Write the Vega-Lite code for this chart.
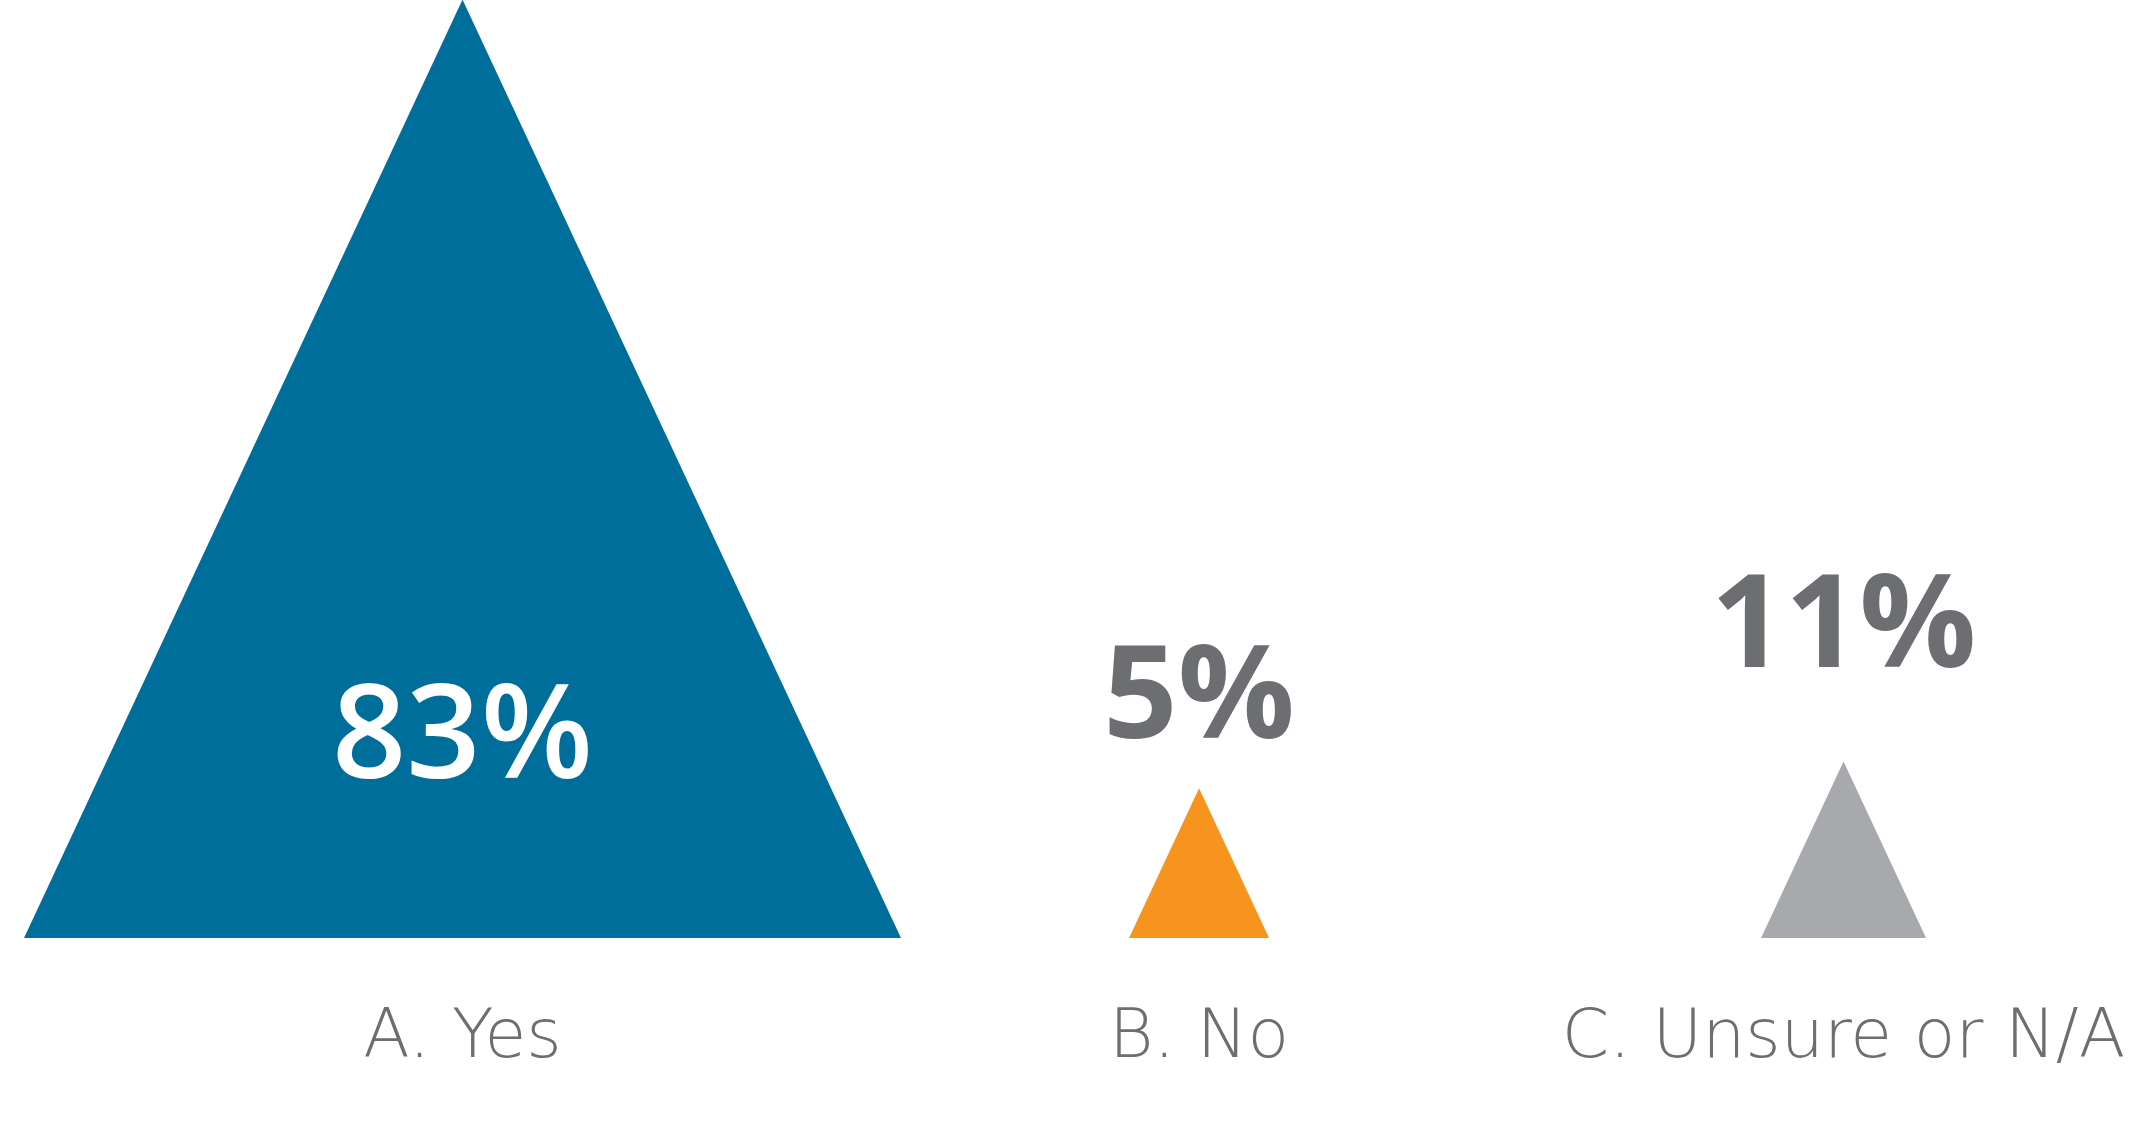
{
  "$schema": "https://vega.github.io/schema/vega-lite/v6.json",
  "width": 2130,
  "height": 938,
  "autosize": "none",
  "padding": {"left": 0, "top": 0, "right": 0, "bottom": 186},
  "background": "white",
  "config": {"view": {"stroke": null}},
  "data": {
    "values": [
      {"answer": "A. Yes", "pct": 83, "label": "83%"},
      {"answer": "B. No", "pct": 5, "label": "5%"},
      {"answer": "C. Unsure or N/A", "pct": 11, "label": "11%"}
    ]
  },
  "encoding": {
    "x": {
      "field": "answer",
      "type": "nominal",
      "axis": null,
      "scale": {
        "type": "point",
        "domain": ["_a1", "_a2", "_a3", "_a4", "_a5", "A. Yes", "_1", "_2", "_3", "_4", "_5", "_6", "_7", "B. No", "_9", "_10", "_11", "_12", "_13", "_14", "C. Unsure or N/A", "_z1", "_z2"],
        "padding": 0.5675,
        "align": 0.0207
      }
    },
    "y": {"datum": 0, "type": "quantitative", "axis": null, "scale": {"domain": [0, 1]}}
  },
  "layer": [
    {
      "mark": {"type": "point", "shape": "M-1,0L0,-2.14L1,0Z", "filled": true, "opacity": 1, "strokeWidth": 0},
      "encoding": {
        "size": {"field": "pct", "type": "quantitative", "legend": null, "scale": {"domain": [5, 11, 83], "range": [19600, 27225, 769129]}},
        "color": {"field": "answer", "type": "nominal", "legend": null, "scale": {"domain": ["A. Yes", "B. No", "C. Unsure or N/A"], "range": ["#006E9B", "#F7941E", "#A7A9AC"]}}
      }
    },
    {
      "transform": [{"filter": "datum.pct == 83"}],
      "mark": {"type": "text", "font": "Open Sans", "fontSize": 130, "fontWeight": 600, "fill": "#FFFFFF", "align": "center", "baseline": "alphabetic", "dy": -160},
      "encoding": {"text": {"field": "label"}}
    },
    {
      "transform": [{"filter": "datum.pct == 5"}],
      "mark": {"type": "text", "font": "Open Sans", "fontSize": 130, "fontWeight": 700, "fill": "#6D6E71", "align": "center", "baseline": "alphabetic", "dy": -200},
      "encoding": {"text": {"field": "label"}}
    },
    {
      "transform": [{"filter": "datum.pct == 11"}],
      "mark": {"type": "text", "font": "Open Sans", "fontSize": 130, "fontWeight": 700, "fill": "#6D6E71", "align": "center", "baseline": "alphabetic", "dy": -271},
      "encoding": {"text": {"field": "label"}}
    },
    {
      "mark": {"type": "text", "font": "DejaVu Sans", "fontSize": 68, "fontWeight": 300, "fill": "#6D6E71", "align": "center", "baseline": "alphabetic", "dy": 119},
      "encoding": {"text": {"field": "answer"}}
    }
  ]
}
